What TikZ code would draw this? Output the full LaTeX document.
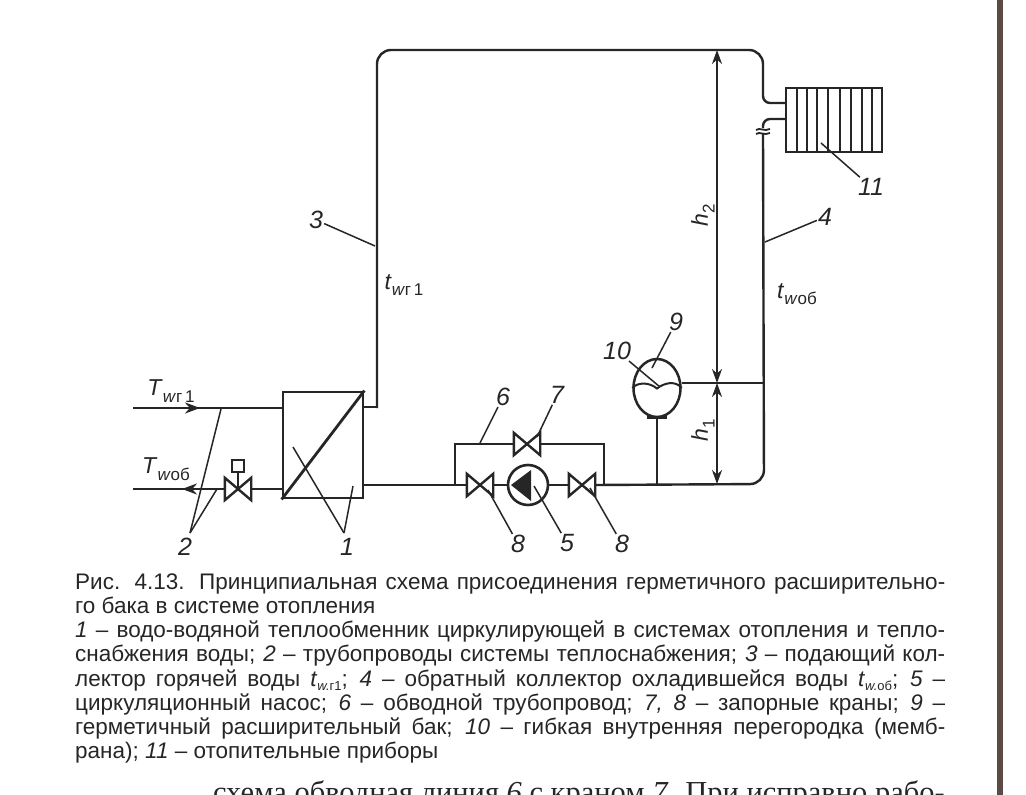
\documentclass[tikz,border=0pt]{standalone}
\usepackage{fontspec}
\setmainfont{Liberation Sans}
\newfontfamily\bookfont{Liberation Serif}
\usetikzlibrary{arrows.meta,shapes.geometric}
\newcommand{\capline}[1]{\makebox[870pt][s]{#1}}
\newcommand{\capsub}[2]{\textit{t}\raisebox{-0.35ex}{\fontsize{13}{13}\selectfont\textit{#1}#2}}
\newcommand{\schemsub}[2]{\textit{#1}\raisebox{-0.55ex}{\fontsize{17}{17}\selectfont #2}}

\begin{document}
\begin{tikzpicture}
    [x=1pt,y=-1pt,
    pipe/.style={draw=ink,line width=2.4pt},
    leader/.style={draw=ink,line width=1.5pt},
    dimline/.style={draw=ink,line width=1.9pt,{Stealth[length=14pt,width=10pt]}-{Stealth[length=14pt,width=10pt]}},
    flowtip/.style={draw=ink,line width=2.4pt,-{Stealth[length=15pt,width=11pt]}},
    valve/.style={rectangle,inner sep=0pt,minimum width=26pt,minimum height=22pt},
    callout/.style={inner sep=1pt,font=\fontsize{25}{25}\selectfont\itshape,text=ink},
    quantity/.style={inner sep=0pt,font=\fontsize{23}{23}\selectfont,text=ink},
    capt/.style={inner sep=0pt,anchor=base west,font=\fontsize{22.5}{22.5}\selectfont,text=ink}]
    \definecolor{ink}{HTML}{262626}
    \definecolor{pageedge}{HTML}{5E4A45}
    \useasboundingbox (0,0) rectangle (1026,795);
    \fill[white] (0,0) rectangle (1026,795);
    \fill[pageedge] (997,0) rectangle (1003,795);

    % heat exchanger
    \node[rectangle,draw=ink,line width=2.8pt,inner sep=0pt,minimum width=80pt,minimum height=106pt]
        (exchanger) at (323,445) {};
    \draw[ink,line width=2.8pt] (exchanger.south west) -- (exchanger.north east);

    % valves and pump
    \node[valve] (control valve) at (238,489) {};
    \node[valve] (left valve) at (480,485) {};
    \node[valve] (right valve) at (582,485) {};
    \node[valve] (bypass valve) at (527,444) {};
    \foreach \v in {control valve,left valve,right valve,bypass valve}
        \draw[pipe] (\v.north west) -- (\v.south east) -- (\v.north east) -- (\v.south west) -- cycle;
    \node[rectangle,draw=ink,line width=2pt,inner sep=0pt,minimum size=12pt] (actuator) at (238,466) {};
    \draw[pipe] (actuator) -- (control valve.center);
    \node[circle,draw=ink,line width=2.6pt,inner sep=0pt,minimum size=40pt] (pump) at (528,485) {};
    \fill[ink] (511,485) -- (531,470) -- (531,501) -- cycle;

    % tank and membrane
    \node[ellipse,draw=ink,line width=2.5pt,inner sep=0pt,minimum width=47pt,minimum height=58pt] (tank) at (657,388) {};
    \draw[ink,line width=2pt] (tank.west) .. controls (638,382) and (649,382) .. (657,388.5)
        .. controls (664,383) and (675,380) .. (tank.east);
    \draw[ink,line width=3pt] (647,417) -- (667,417);

    % radiator
    \node[rectangle,draw=ink,line width=2.4pt,inner sep=0pt,minimum width=96pt,minimum height=64pt] (radiator) at (834,120) {};
    \foreach \s in {797,807,817,828,840,851,862,872}
        \draw[ink,line width=2.4pt] (\s,88) -- (\s,152);

    % pipes
    \coordinate (hot in) at (133,408);
    \coordinate (cold out) at (133,489);
    \coordinate (return break) at (763,134);
    \draw[pipe] (hot in) -- (exchanger.west |- hot in);
    \draw[flowtip] (hot in) -- (200,408);
    \draw[pipe] (control valve.east) -- (exchanger.west |- control valve);
    \draw[pipe] (control valve.west) -- (cold out);
    \draw[flowtip] (control valve.west) -- (182,489);
    \draw[pipe] (exchanger.east |- 0,407) -- (377,407);
    \draw[pipe,rounded corners=14pt] (377,408) -- (377,50) -- (763,50) [rounded corners=7pt] -- (763,103) -- (radiator.west |- 0,103);
    \draw[pipe,rounded corners=7pt] (radiator.west |- 0,119) -- (763,119) -- (763,128);
    \draw[ink,line width=1.8pt] (756,130) .. controls (760,127) and (764,132) .. (770,129);
    \draw[ink,line width=1.8pt] (756,134) .. controls (760,131) and (764,136) .. (770,133);
    \draw[pipe,rounded corners=14pt] (return break) -- (764,484) -- (right valve.east);
    \draw[pipe] (exchanger.east |- left valve) -- (left valve.west);
    \draw[pipe] (left valve.east) -- (pump.west);
    \draw[pipe] (pump.east) -- (right valve.west);
    \draw[pipe] (455,485) -- (455,444) -- (bypass valve.west);
    \draw[pipe] (bypass valve.east) -- (604,444) -- (604,484);
    \draw[pipe] (tank.south) -- (657,484);
    \draw[pipe] (tank.east |- 0,383) -- (764,383);

    % heights
    \coordinate (top mark) at (717,50);
    \coordinate (mid mark) at (717,383);
    \coordinate (low mark) at (717,484);
    \draw[dimline] (top mark) -- (mid mark);
    \draw[dimline] (mid mark) -- (low mark);
    \node[quantity,rotate=90] (h2) at (703,215) {\schemsub{h}{2}};
    \node[quantity,rotate=90] (h1) at (703,430) {\schemsub{h}{1}};

    % temperatures
    \node[quantity] (tw1) at (404,285) {\schemsub{t}{\textit{w}г\,1}};
    \node[quantity] (tw2) at (797,294) {\schemsub{t}{\textit{w}об}};
    \node[quantity] (Tw1) at (171,391) {\schemsub{T}{\textit{w}г\,1}};
    \node[quantity] (Tw2) at (166,469) {\schemsub{T}{\textit{w}об}};

    % callouts
    \node[callout] (label 1) at (347,547) {1};
    \node[callout] (label 2) at (185,547) {2};
    \node[callout] (label 3) at (316,220) {3};
    \node[callout] (label 4) at (825,217) {4};
    \node[callout] (label 5) at (567,543) {5};
    \node[callout] (label 6) at (503,397) {6};
    \node[callout] (label 7) at (557,395) {7};
    \node[callout] (label 8a) at (518,544) {8};
    \node[callout] (label 8b) at (622,544) {8};
    \node[callout] (label 9) at (676,322) {9};
    \node[callout] (label 10) at (617,351) {10};
    \node[callout] (label 11) at (871,187) {11};

    \draw[leader] (344,533) -- (293,447);
    \draw[leader] (344,533) -- (353,486);
    \draw[leader] (190,533) -- (221,409);
    \draw[leader] (190,533) -- (217,489);
    \draw[leader] (label 3) -- (375,246);
    \draw[leader] (label 4) -- (765,242);
    \draw[leader] (label 5) -- (534,486);
    \draw[leader] (label 6) -- (480,443);
    \draw[leader] (label 7) -- (537,437);
    \draw[leader] (label 8a) -- (488,490);
    \draw[leader] (label 8b) -- (590,488);
    \draw[leader] (label 9) -- (652,368);
    \draw[leader] (label 10) -- (660,387);
    \draw[leader] (label 11) -- (821,143);

    % caption
    \node[capt] (line 1) at (75,589) {\capline{Рис. 4.13. Принципиальная схема присоединения герметичного расширительно-}};
    \node[capt] (line 2) at (75,613) {го бака в системе отопления};
    \node[capt] (line 3) at (75,637) {\capline{\textit{1} – водо-водяной теплообменник циркулирующей в системах отопления и тепло-}};
    \node[capt] (line 4) at (75,661) {\capline{снабжения воды; \textit{2} – трубопроводы системы теплоснабжения; \textit{3} – подающий кол-}};
    \node[capt] (line 5) at (75,686) {\capline{лектор горячей воды \capsub{w.}{г1}; \textit{4} – обратный коллектор охладившейся воды \capsub{w.}{об}; \textit{5} –}};
    \node[capt] (line 6) at (75,710) {\capline{циркуляционный насос; \textit{6} – обводной трубопровод; \textit{7, 8} – запорные краны; \textit{9} –}};
    \node[capt] (line 7) at (75,734) {\capline{герметичный расширительный бак; \textit{10} – гибкая внутренняя перегородка (мемб-}};
    \node[capt] (line 8) at (75,758) {рана); \textit{11} – отопительные приборы};
    \node[inner sep=0pt,anchor=base east,font=\bookfont\fontsize{30.5}{30.5}\selectfont,text=ink] (next line) at (945,802)
        {схема обводная линия \textit{6} с краном \textit{7}. При исправно рабо-};
\end{tikzpicture}
\end{document}
